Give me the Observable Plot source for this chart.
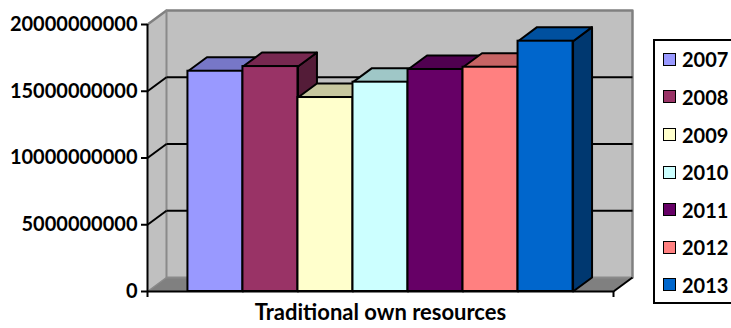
<!DOCTYPE html>
<html>
<head>
<meta charset="utf-8">
<script src="https://cdn.jsdelivr.net/npm/d3@7"></script>
<script src="https://cdn.jsdelivr.net/npm/@observablehq/plot@0.6"></script>
<style>
  html, body { margin: 0; padding: 0; background: #fff; overflow: hidden; }
  #wrap { position: relative; width: 731px; height: 328px; overflow: hidden; }
  #legend { position: absolute; left: 653px; top: 39px; width: 110px; height: 261px;
    border: 2px solid #000; background: #fff; font-family: Lato, "Open Sans", sans-serif; font-weight: bold; font-size: 20px; }
  .item { position: absolute; left: 8px; height: 20px; display: flex; align-items: center; }
  .sw { width: 11px; height: 11px; border: 1.5px solid #000; margin-right: 6px; }
</style>
</head>
<body>
<div id="wrap"><div id="chart"></div><div id="legend"></div></div>
<script>
// ---- data ----
const years = ["2007", "2008", "2009", "2010", "2011", "2012", "2013"];
const values = [16.50e9, 16.85e9, 14.53e9, 15.68e9, 16.63e9, 16.80e9, 18.75e9];
const colors = ["#9999FF", "#993366", "#FFFFCC", "#CCFFFF", "#660066", "#FF8080", "#0066CC"];
const yTicks = [0, 5e9, 10e9, 15e9, 20e9];
const gridValues = [5e9, 10e9, 15e9];
const categoryTitle = "Traditional own resources";

// ---- 3D geometry (in scale units) ----
const PAD = 0.735;
const W = years.length + 2 * PAD;
const YMAX = 20e9;
const DX = 0.345;      // depth offset along x
const DY = 1.05e9;     // depth offset along y

function shade(c, k) {
  const r = d3.rgb(c);
  return d3.rgb(r.r * k, r.g * k, r.b * k).formatHex();
}
function poly(pts) { return pts.concat([pts[0]]).map(([x, y]) => ({x, y})); }

const marks = [];
// left wall
marks.push(Plot.line(poly([[0, 0], [DX, DY], [DX, YMAX + DY], [0, YMAX]]), {x: "x", y: "y", fill: "#C0C0C0", stroke: "none"}));
// back wall
marks.push(Plot.rect([0], {x1: DX, x2: W + DX, y1: DY, y2: YMAX + DY, fill: "#C0C0C0"}));
// floor
marks.push(Plot.line(poly([[0, 0], [W, 0], [W + DX, DY], [DX, DY]]), {x: "x", y: "y", fill: "#808080", stroke: "none"}));
// wall edges (gray)
marks.push(Plot.line([{x: 0, y: YMAX}, {x: DX, y: YMAX + DY}, {x: W + DX, y: YMAX + DY}, {x: W + DX, y: DY}], {x: "x", y: "y", stroke: "#808080", strokeWidth: 2.5}));
marks.push(Plot.line([{x: DX, y: YMAX + DY}, {x: DX, y: DY}, {x: W + DX, y: DY}], {x: "x", y: "y", stroke: "#8a8a8a", strokeWidth: 2}));
marks.push(Plot.line([{x: 0, y: 0}, {x: DX, y: DY}], {x: "x", y: "y", stroke: "#8a8a8a", strokeWidth: 1.5}));
// gridlines
marks.push(Plot.link(gridValues, {x1: 0, y1: d => d, x2: DX, y2: d => d + DY, stroke: "#000", strokeWidth: 2}));
marks.push(Plot.link(gridValues, {x1: DX, y1: d => d + DY, x2: W + DX, y2: d => d + DY, stroke: "#000", strokeWidth: 2}));
// floor right edge
marks.push(Plot.link([0], {x1: W, y1: 0, x2: W + DX, y2: DY, stroke: "#000", strokeWidth: 2}));

// bars
years.forEach((yr, i) => {
  const xL = PAD + i, xR = PAD + i + 1, h = values[i], c = colors[i];
  marks.push(Plot.line(poly([[xR, 0], [xR + DX, DY], [xR + DX, h + DY], [xR, h]]), {x: "x", y: "y", fill: shade(c, 0.55), stroke: "#000", strokeWidth: 2, strokeLinejoin: "round"}));
  marks.push(Plot.line(poly([[xL, h], [xR, h], [xR + DX, h + DY], [xL + DX, h + DY]]), {x: "x", y: "y", fill: shade(c, 0.78), stroke: "#000", strokeWidth: 2, strokeLinejoin: "round"}));
  marks.push(Plot.rect([h], {x1: xL, x2: xR, y1: 0, y2: d => d, fill: c, stroke: "#000", strokeWidth: 2}));
});

// axes
marks.push(Plot.ruleY([0], {x1: 0, x2: W, stroke: "#000", strokeWidth: 2}));
marks.push(Plot.ruleX([0, W], {y1: 0, y2: -0.45e9, stroke: "#000", strokeWidth: 2}));
marks.push(Plot.ruleX([0], {y1: 0, y2: YMAX, stroke: "#000", strokeWidth: 2}));
marks.push(Plot.axisY({ticks: yTicks, tickFormat: d3.format("d"), tickSize: 6, tickPadding: 4, strokeWidth: 2, stroke: "#000", fill: "#000", label: null, fontSize: 20}));
marks.push(Plot.text([categoryTitle], {frameAnchor: "bottom", dy: 28, fill: "#000", fontSize: 22}));

const chart = Plot.plot({
  width: 731,
  height: 328,
  marginLeft: 147,
  marginRight: 118,
  marginTop: 24,
  marginBottom: 37,
  x: {type: "linear", domain: [0, W], axis: null},
  y: {type: "linear", domain: [0, YMAX], axis: null},
  style: {fontFamily: "Lato, 'Open Sans', sans-serif", fontSize: "20px", fontWeight: "bold", background: "transparent", overflow: "visible"},
  marks
});
document.getElementById("chart").appendChild(chart);

// legend
const legend = document.getElementById("legend");
years.forEach((yr, i) => {
  const item = document.createElement("div");
  item.className = "item";
  item.style.top = (59.3 + i * 37.6 - 39 - 2 - 10) + "px";
  const sw = document.createElement("div");
  sw.className = "sw";
  sw.style.background = colors[i];
  const t = document.createElement("span");
  t.textContent = yr;
  item.appendChild(sw);
  item.appendChild(t);
  legend.appendChild(item);
});
</script>
</body>
</html>
